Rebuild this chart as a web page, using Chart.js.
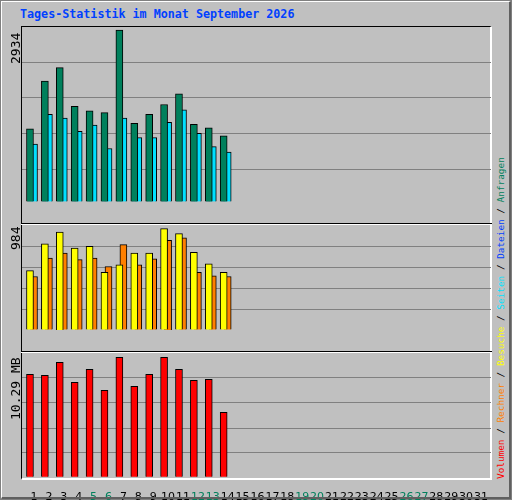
<!DOCTYPE html>
<html><head><meta charset="utf-8">
<script src="https://cdn.jsdelivr.net/npm/chart.js@4"></script>
<style>
body{margin:0;background:#fff;}
#wrap{position:relative;width:512px;height:500px;background:#c0c0c0;box-sizing:border-box;border:1px solid #808080;}
#wrap:after{content:"";position:absolute;left:0;top:0;right:0;bottom:0;border-right:2px solid #606060;border-bottom:2px solid #606060;border-left:1px solid #fff;border-top:1px solid #fff;pointer-events:none}
.t{position:absolute;font-family:"DejaVu Sans Mono",monospace;white-space:nowrap}
#title{left:19px;top:6px;color:#0040ff;font-weight:bold;font-size:11.7px}
.rot{transform-origin:left top;transform:rotate(-90deg);font-size:13px;color:#000;line-height:13px}
#frame{position:absolute;left:20px;top:25px;width:471px;height:454px;box-sizing:border-box;border-left:1px solid #000;border-top:1px solid #000;border-right:2px solid #fff;border-bottom:2px solid #fff}
.sep{position:absolute;left:20px;width:471px;height:1px;background:#fff}
.sepb{position:absolute;left:20px;width:471px;height:1px;background:#000}
.cv{position:absolute;left:21px}
</style></head><body>
<div id="wrap">
<div id="title" class="t">Tages-Statistik im Monat September 2026</div>
<div id="frame"></div>
<canvas id="c1" class="cv" style="top:26px;width:469px;height:196px" width="469" height="196"></canvas>
<canvas id="c2" class="cv" style="top:224px;width:469px;height:126px" width="469" height="126"></canvas>
<canvas id="c3" class="cv" style="top:352px;width:469px;height:147px" width="469" height="147"></canvas>
<div class="sepb" style="top:222px"></div><div class="sep" style="top:223px"></div>
<div class="sepb" style="top:350px"></div><div class="sep" style="top:351px"></div>
<div class="t rot" style="left:8px;top:63px">2934</div>
<div class="t rot" style="left:8px;top:249px">984</div>
<div class="t rot" style="left:8px;top:419px">10.29 MB</div>
<div class="t rot" style="left:494px;top:478px;font-size:9.4px;line-height:12px"><span style="color:#ff0000">Volumen</span> / <span style="color:#ff8000">Rechner</span> / <span style="color:#ffff00">Besuche</span> / <span style="color:#00e0ff">Seiten</span> / <span style="color:#0040ff">Dateien</span> / <span style="color:#00805c">Anfragen</span></div>
</div>
<script>
const days=[1,2,3,4,5,6,7,8,9,10,11,12,13,14];
const weekend=[5,6,12,13,19,20,26,27];
const hits=[1244,2058,2289,1628,1551,1521,2934,1336,1490,1659,1843,1321,1260,1121];
const files=[983,1490,1428,1198,1306,906,1428,1091,1091,1352,1567,1167,937,845];
const pages=[584,630,835,691,768,630,753,645,676,783,799,707,691,553];
const visits=[574,836,951,795,812,558,631,746,746,984,935,754,640,558];
const sites=[517,697,746,681,697,615,828,631,689,869,894,558,525,517];
const kbytesMB=[8.82,8.74,9.86,8.13,9.26,7.44,10.29,7.79,8.82,10.29,9.26,8.31,8.39,5.55];

const xMin=(21-18.1)/14.9, xMax=(490-18.1)/14.9;
function pts(v,off){return days.map((d,i)=>({x:d+off,y:v[i]}));}
function ds(v,off,col,w){return {data:pts(v,off),backgroundColor:col,borderColor:'#000',borderWidth:1,barThickness:w,grouped:false,borderSkipped:'bottom'};}
function mk(id,datasets,maxV,topPx,basePx,h,gridPx,showX){
  const pxPer=maxV/(basePx-topPx);
  const ymax=maxV+topPx*pxPer, ymin=-(h-basePx)*pxPer;
  return new Chart(document.getElementById(id),{type:'bar',data:{datasets},
   options:{responsive:false,devicePixelRatio:1,animation:false,events:[],
    layout:{padding:0},plugins:{legend:{display:false},tooltip:{enabled:false}},
    scales:{
     x:{type:'linear',min:xMin,max:xMax,offset:false,display:showX,grid:{display:false},border:{display:false},
        afterBuildTicks:s=>{s.ticks=[];for(let d=1;d<=31;d++)s.ticks.push({value:d});},
        afterFit:s=>{s.height=147-127;},
        ticks:{autoSkip:false,maxRotation:0,minRotation:0,padding:3,font:{family:'"DejaVu Sans"',size:11},
          color:c=>weekend.includes(c.tick.value)?'#00805c':'#000',callback:v=>String(v)}},
     y:{min:ymin,max:ymax,display:true,position:'left',border:{display:false},
        grid:{color:'#808080',lineWidth:1,drawTicks:false},ticks:{display:false},
        afterFit:s=>{s.width=0;},
        afterBuildTicks:s=>{s.ticks=gridPx.map(p=>({value:ymax-p*pxPer}));}}
    }}});
}
mk('c1',[ds(hits,-0.27,'#00805c',7),ds(files,0,'#00e0ff',7),ds(pages,-0.33,'#0040ff',2)],2934,3.3,194.3,196,[39,79,119,159],false);
mk('c2',[ds(visits,-0.27,'#ffff00',7),ds(sites,0,'#ff8000',7)],984,4.3,124.3,126,[25,50,75,100],false);
mk('c3',[ds(kbytesMB,-0.27,'#ff0000',7)],10.29,4.3,123.7,127,[25,50,75,100],true);
</script>
</body></html>
